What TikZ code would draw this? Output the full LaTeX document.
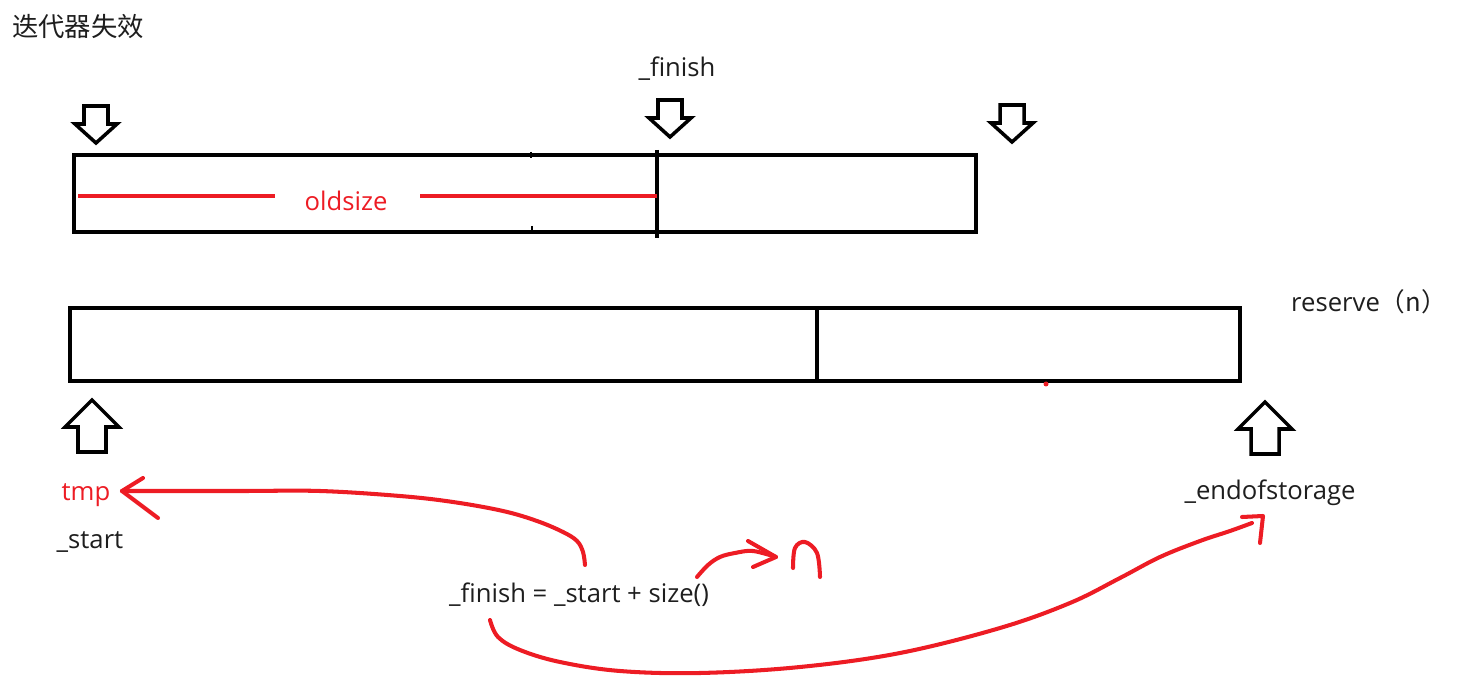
\documentclass[tikz,border=0pt]{standalone}
\usepackage{fontspec}
\setmainfont{Open Sans}
\newfontfamily\cjk{Noto Sans CJK SC}
\usepackage{xcolor}
\usetikzlibrary{arrows.meta, calc, positioning}

\definecolor{paintred}{RGB}{237,28,36}
\definecolor{inkgray}{RGB}{30,30,30}

\tikzset{
  frame/.style={line width=2.3pt},
  hollow/.style={line width=2pt},
  redpen/.style={paintred, line width=2.3pt, line cap=round, line join=round},
  lbl/.style={font=\fontsize{14.6}{17}\selectfont, text=inkgray},
  redlbl/.style={lbl, text=paintred},
  downarrow/.pic={\draw[hollow] (0,0) -- (-21,-19) -- (-12,-19) -- (-12,-37) -- (12,-37) -- (12,-19) -- (21,-19) -- cycle;},
  uparrow/.pic={\draw[hollow] (0,0) -- (-27,27) -- (-14,27) -- (-14,52) -- (14,52) -- (14,27) -- (27,27) -- cycle;},
}

\begin{document}
\begin{tikzpicture}[x=0.02cm, y=-0.02cm]
    \useasboundingbox (0,0) rectangle (1465,692);

    % title
    \node[lbl, anchor=west, font=\fontsize{15}{18}\selectfont\cjk] (title) at (6,27) {迭代器失效};

    % old buffer
    \draw[frame] (74,155) rectangle (976,232);
    \draw[frame] (657,150) -- (657,238);
    \draw[line width=1.2pt] (531,152) -- (531,158);
    \draw[line width=1.2pt] (532,226) -- (532,231);
    \coordinate (oldleft) at (78,196);
    \coordinate (oldmid) at (657,196);
    \node[redlbl] (oldsize) at (346,201) {oldsize};
    \draw[redpen, line cap=butt] (oldleft) -- (275,196);
    \draw[redpen, line cap=butt] (420,196) -- (oldmid);

    % pointers on the old buffer
    \node[lbl] (finishtop) at (677,69) {\_finish};
    \pic at (96,143) {downarrow};
    \pic at (670,137) {downarrow};
    \pic at (1012,142) {downarrow};

    % new buffer
    \draw[frame] (70,308) rectangle (1240,381);
    \draw[frame] (817,308) -- (817,381);
    \node[lbl, anchor=west] (reserve) at (1285,302) {reserve\cjk{（}n\cjk{）}};
    \fill[paintred] (1046,384) circle (2.5);

    % pointers on the new buffer
    \pic at (92,400) {uparrow};
    \pic at (1265,402) {uparrow};
    \node[redlbl] (tmp) at (86,495) {tmp};
    \node[lbl] (start) at (90,542) {\_start};
    \node[lbl] (eos) at (1270,493) {\_endofstorage};
    \node[lbl] (formula) at (579,595) {\_finish = \_start + size()};

    % red notes
    \coordinate (fup) at (585,565);
    \coordinate (tmptip) at (122,491);
    \draw[redpen] plot[smooth, tension=0.6] coordinates {(fup) (583,552) (577,541) (563,532) (537,521) (503,511) (453,502) (400,496) (320,491) (240,491) (tmptip)};
    \draw[redpen] (tmptip) -- (143,478) (tmptip) -- (158,518);

    \coordinate (fright) at (697,577);
    \coordinate (smalltip) at (776,557);
    \draw[redpen] plot[smooth, tension=0.6] coordinates {(fright) (708,565) (720,557) (735,553) (753,551) (smalltip)};
    \draw[redpen] (smalltip) -- (748,541) (smalltip) -- (753,567);
    \draw[redpen] plot[smooth, tension=0.6] coordinates {(793,568) (795,548) (805,542) (817,553) (820,577)};

    \coordinate (fdown) at (490,620);
    \coordinate (eostip) at (1263,516);
    \draw[redpen] plot[smooth, tension=0.6] coordinates {(fdown) (498,637) (520,650) (560,662) (620,671) (700,673) (800,667) (900,653) (1000,628) (1070,603) (1120,578) (1160,557) (1200,541) (1230,531) (1252,523)};
    \draw[redpen] (1242,517) -- (eostip) -- (1260,543);
\end{tikzpicture}
\end{document}
